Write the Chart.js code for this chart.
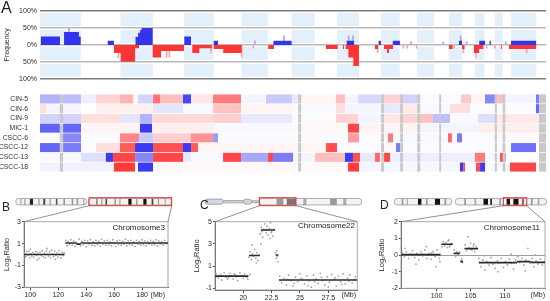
<!DOCTYPE html>
<html>
<head>
<meta charset="utf-8">
<script src="https://cdn.jsdelivr.net/npm/chart.js@4.4.1/dist/chart.umd.min.js"></script>
<style>
  body { margin: 0; background: #fff; width: 550px; height: 301px; overflow: hidden; position: relative;
         font-family: "Liberation Sans", Arial, sans-serif; color: #222; }
  canvas { position: absolute; }
  .lbl { position: absolute; font-size: 8px; line-height: 1; white-space: nowrap; }
  .panel { position: absolute; line-height: 1; }
</style>
</head>
<body>
<canvas id="freq" width="550" height="86" style="left:0;top:0"></canvas>
<canvas id="heat" width="550" height="94" style="left:0;top:86px"></canvas>
<canvas id="cB" width="180" height="113" style="left:0;top:188px"></canvas>
<canvas id="cC" width="185" height="113" style="left:180px;top:188px"></canvas>
<canvas id="cD" width="185" height="113" style="left:365px;top:188px"></canvas>

<div class="panel" style="left:1px;top:0;font-size:16px">A</div>
<div class="panel" style="left:2px;top:201px;font-size:12px">B</div>
<div class="panel" style="left:200px;top:199px;font-size:12px">C</div>
<div class="panel" style="left:380px;top:199px;font-size:12px">D</div>

<div class="lbl" style="right:385px;top:224px">Chromosome3</div>
<div class="lbl" style="right:195px;top:222px">Chromosome22</div>
<div class="lbl" style="right:10px;top:224px">Chromosome11</div>
<div class="lbl" style="right:385px;top:291px;font-size:7px">(Mb)</div>
<div class="lbl" style="right:194px;top:291px;font-size:7px">(Mb)</div>
<div class="lbl" style="right:5px;top:291px;font-size:7px">(Mb)</div>

<script>
// genome layout (Mb)
const chrNames = ["1","2","3","4","5","6","7","8","9","10","11","12","13","14","15","16","17","18","19","20","21","22","X","Y"];
const chrLen = [249,243,198,191,181,171,159,146,141,136,135,134,115,107,103,90,81,78,59,63,48,51,155,59];

// frequency of gains / losses: [start Mb, end Mb, %]
const gainSegs = [[4,122,25],[147,238,38],[238,249,25],[414,452,12],[584,600,24],[600,612,36],[612,621,44],[621,689,50],
  [882,923,25],[1062,1088,12],[1427,1538,12],[1875,1920,12],[2070,2084,12],[2158,2200,12],[2561,2580,12],
  [2685,2720,12],[2748,2756,12],[2879,3034,12]];
const lossSegs = [[452,493,24],[493,581,50],[581,605,10],[689,740,37],[740,880,18],[931,974,24],[974,1050,10],
  [1062,1120,12],[1120,1233,24],[1395,1430,12],[1748,1820,12],[1852,1858,12],[1868,1885,12],[1885,1915,37],
  [1915,1950,62],[2048,2066,12],[2103,2121,12],[2121,2133,24],[2133,2158,12],[2500,2522,12],[2580,2595,12],
  [2653,2684,24],[2684,2710,12],[2817,2823,12],[2867,3034,12]];
// thin pale spikes: [Mb, %]
const gainSpikes = [[177,50],[1314,12],[1492,27],[1887,27],[1913,27],[2158,8],[2268,10],[2464,8],[2572,27],[2608,10],[2849,10]];
const lossSpikes = [[479,-38],[774,-37],[791,-37],[1045,-24],[1233,-37],[1304,-10],[2064,-24],[2221,-10],[2245,-10],
  [2303,-10],[2531,-10],[2588,-24],[2663,-37],[2731,-10],[2781,-10],[2975,-24]];
const freqTicks = [-100,-50,0,50,100];

// heatmap rows: [start Mb, end Mb, value] (+ gain blue, - loss red)
const sampleNames = ["CIN-5","CIN-6","CIN-9","MIC-1","CSCC-6","CSCC-12","CSCC-13","CSCC-18"];
const cin5 = [[0,122,0.35],[141,251,0.3],[251,342,0.08],[342,489,-0.2],[489,569,-0.35],[569,599,-0.05],[599,691,0.2],
  [691,734,-0.65],[734,874,-0.3],[874,923,0.85],[923,1058,-0.12],[1058,1229,-0.6],[1229,1382,0.05],[1382,1540,0.25],
  [1540,1589,0.1],[1589,1809,-0.05],[1809,1864,-0.3],[1864,1944,0.05],[1944,2085,0.18],[2085,2201,-0.2],[2201,2311,0.2],
  [2311,2574,0.02],[2574,2635,-0.25],[2635,2720,-0.05],[2720,2781,0.55],[2781,2842,-0.3],[2842,3032,0.05],[3032,3050,0.6]];
const cin6 = [[0,37,-0.15],[37,251,0.05],[251,342,0],[342,691,-0.07],[691,874,0.12],[874,1058,0.03],[1058,1229,-0.28],
  [1229,1540,-0.05],[1540,1809,0.03],[1809,1864,-0.15],[1864,2085,0.05],[2085,2201,0.1],[2201,2311,-0.1],[2311,2506,0.03],
  [2506,2629,-0.15],[2629,3032,0.02],[3032,3050,0.7]];
const cin9 = [[0,251,0.2],[251,489,-0.15],[489,611,0.12],[611,685,0.35],[685,1058,-0.18],[1058,1229,-0.22],[1229,1540,0.1],
  [1540,1809,0.02],[1809,1944,-0.2],[1944,2085,0.05],[2085,2201,-0.12],[2201,2311,-0.2],[2311,2402,-0.28],[2402,2506,0.3],
  [2506,2677,0.03],[2677,2794,0.15],[2794,3050,-0.1]];
const mic1 = [[0,122,0.72],[141,251,0.7],[251,611,-0.05],[611,685,0.9],[685,1058,-0.08],[1058,1540,0.03],[1540,1883,-0.03],
  [1883,1950,-0.85],[1950,2323,-0.05],[2323,2690,0.05],[2690,3050,-0.08]];
const cscc6 = [[0,141,0.02],[141,251,0.55],[251,489,0.02],[489,605,-0.55],[605,691,0.25],[691,923,-0.22],[923,1058,-0.5],
  [1058,1088,0.45],[1088,1883,0.02],[1883,1950,-0.45],[1950,2127,0.02],[2127,2158,-0.6],[2158,2494,0.03],[2494,2518,-0.7],
  [2518,2549,0.02],[2549,2580,0.6],[2580,3050,0.02]];
const cscc12 = [[0,122,0.7],[141,251,0.6],[251,342,0.02],[342,489,-0.15],[489,581,-0.75],[581,691,0.9],[691,874,-0.8],
  [874,923,0.9],[923,966,-0.75],[966,1748,-0.05],[1748,1816,-0.8],[1816,2176,0.02],[2176,2201,0.6],[2201,2879,0.02],
  [2879,3032,0.65]];
const cscc13 = [[0,251,0.03],[251,403,0.15],[403,446,0.9],[446,581,-0.85],[581,691,0.55],[691,874,-0.85],[874,923,0.1],
  [923,1119,0.03],[1119,1229,-0.85],[1229,1394,0.4],[1394,1424,-0.85],[1424,1547,0.6],[1547,1681,0.05],[1681,1864,-0.3],
  [1864,1913,0.9],[1913,1956,-0.8],[1956,2048,0.1],[2048,2078,-0.7],[2078,2103,0.02],[2103,2140,-0.85],[2140,2659,0.08],
  [2659,2720,-0.6],[2720,2812,0.03],[2812,2830,-0.8],[2830,2849,0.4],[2849,3050,0]];
const cscc18 = [[0,452,0.06],[452,581,-0.9],[581,599,0.02],[599,691,0.9],[691,1883,-0.03],[1883,1950,-0.9],[1950,2567,0.04],
  [2567,2586,0.9],[2586,2598,-0.8],[2598,2665,0.02],[2665,2690,-0.8],[2690,2720,0.9],[2720,2873,0.03],[2873,3032,-0.85]];
const heatRows = [cin5, cin6, cin9, mic1, cscc6, cscc12, cscc13, cscc18];
// masked (grey) columns
const grayGaps = [[121,141],[1578,1596],[2085,2103],[2201,2219],[2306,2324],[2440,2452],[2780,2793],[2828,2844],[3050,3093]];

// panel B: chromosome 3
const bTicksX = [100,120,140,160,180];
const bTicksY = [-3,-2,-1,0,1,2,3];
const bSegs = [[95.5,124.5,0],[125,133,1.05],[133,136,0.95],[136,198.5,1.05]];
const bPoints = [[96,0.12],[96.8,-0.2],[97.5,0.25],[98.2,-0.05],[99,0.3],[99.6,-0.3],[100.3,0.08],[101,-0.15],[101.8,0.2],
  [102.5,-0.25],[103.2,0.05],[104,0.28],[104.7,-0.1],[105.5,0.15],[106.2,-0.35],[107,0.22],[107.8,-0.05],[108.5,0.35],
  [109.3,-0.2],[110,0.1],[110.8,-0.28],[111.5,0.3],[112.3,0.02],[113,-0.15],[113.8,0.25],[114.5,-0.3],[115.3,0.4],[116,0.05],
  [116.8,-0.2],[117.5,0.3],[118.3,-0.08],[119,0.18],[119.8,-0.25],[120.5,0.35],[121.3,0],[122,-0.32],[122.8,0.2],[123.5,-0.1],
  [124.2,0.15],[100,0.5],[105,-0.5],[112,0.55],[118,-0.45],
  [125.5,1.3],[126.3,0.8],[127,1.2],[128,0.9],[129,1.35],[130,0.85],[131,1.25],[132,0.75],[133,1.15],[134,0.95],[135,1.4],
  [136,0.8],[137,1.2],[138,0.9],[139,1.3],[140,0.7],[141,1.25],[142,0.95],[143,1.35],[144,0.85],[145,1.15],[146,0.8],
  [147,1.3],[148,0.9],[149,1.2],[150,0.75],[151,1.4],[152,0.95],[153,1.25],[154,0.85],[155,1.3],[156,0.9],[157,1.15],
  [158,0.8],[159,1.35],[160,1.0],[161,0.75],[162,1.25],[163,0.9],[164,1.3],[165,0.85],[166,1.2],[167,0.95],[168,1.4],
  [169,0.8],[170,1.25],[171,0.9],[172,1.3],[173,0.85],[174,1.15],[175,0.75],[176,1.3],[177,0.95],[178,1.2],[179,0.85],
  [180,1.35],[181,0.9],[182,1.25],[183,0.8],[184,1.15],[185,0.95],[186,1.3],[187,0.85],[188,1.2],[189,0.9],[190,1.35],
  [191,0.8],[192,1.25],[193,0.95],[194,1.15],[195,0.85],[196,1.3],[197,1.0]];

// panel C: chromosome 22
const cTicksX = [20,22.5,25,27.5];
const cTicksY = [-1,0,1,2,3,4,5];
const cSegs = [[17.5,20.45,0.1],[20.5,21.45,1.95],[21.55,22.8,4.25],[22.85,23.1,2.0],[23.15,30.06,-0.25]];
const cPoints = [[17.6,0.3],[17.8,-0.1],[18.0,0.25],[18.1,-0.25],[18.3,0.4],[18.5,0.0],[18.6,-0.2],[18.8,0.35],[18.9,0.15],
  [19.1,-0.15],[19.2,0.3],[19.4,0.05],[19.5,-0.3],[19.7,0.4],[19.8,0.1],[20.0,-0.1],[20.1,0.3],[20.3,0.0],[20.4,-0.2],
  [20.6,0.25],[17.7,0.05],[18.2,0.1],[18.7,-0.05],[19.3,0.2],[19.9,0.15],
  [20.5,1.8],[20.6,2.3],[20.7,1.6],[20.8,2.1],[20.9,1.9],[21.0,2.5],[21.1,1.7],[21.2,2.2],[21.3,1.5],[21.4,2.0],[20.75,2.9],[21.15,1.3],
  [21.5,3.9],[21.6,4.5],[21.7,3.6],[21.8,4.3],[21.9,4.8],[22.0,4.0],[22.1,4.6],[22.2,3.8],[22.3,4.4],[22.4,4.9],[22.5,4.1],
  [22.6,3.7],[22.7,4.3],[21.65,4.1],[22.05,4.3],[22.35,3.5],[21.55,3.0],[22.45,4.0],
  [22.85,2.2],[22.9,1.7],[22.95,2.4],[23.0,1.9],[23.05,1.4],
  [23.2,0.1],[23.4,-0.5],[23.6,-0.1],[23.8,-0.7],[24.0,0.2],[24.2,-0.3],[24.4,-0.8],[24.6,0.0],[24.8,-0.4],[25.0,0.3],
  [25.2,-0.2],[25.4,-0.6],[25.6,0.1],[25.8,-0.35],[26.0,-0.9],[26.2,0.2],[26.4,-0.15],[26.6,-0.55],[26.8,0.35],[27.0,-0.3],
  [27.2,-0.7],[27.4,0.05],[27.6,-0.45],[27.8,0.25],[28.0,-0.2],[28.2,-0.8],[28.4,0.1],[28.6,-0.4],[28.8,0.3],[29.0,-0.6],
  [29.2,-0.1],[29.4,0.2],[29.6,-0.5],[29.8,-0.2],[23.3,-0.3],[23.9,-0.2],[24.5,-0.55],[25.1,-0.1],[25.7,-0.75],[26.3,-0.4],
  [26.9,0.0],[27.5,-0.9],[28.1,-0.05],[28.7,-0.65],[29.3,-0.35],[29.9,0.05]];

// panel D: chromosome 11
const dTicksX = [100,105,110];
const dTicksY = [-2,-1,0,1,2];
const dSegs = [[94.8,100.6,0.02],[100.7,102.4,0.65],[102.5,103.4,0.1],[103.5,103.9,-0.4],[104.1,106.1,0.38],
  [106.2,111.8,-0.46],[111.8,113.8,-0.4],[113.8,115.9,-0.44]];
const dPoints = [[95.0,0.15],[95.3,-0.1],[95.6,0.2],[95.9,-0.2],[96.2,0.05],[96.5,0.25],[96.8,-0.15],[97.1,0.1],[97.4,-0.3],
  [97.7,0.2],[98.0,-0.05],[98.3,0.3],[98.6,-0.2],[98.9,0.1],[99.2,-0.25],[99.5,0.2],[99.8,-0.1],[100.1,0.3],[100.4,-0.2],
  [95.4,0.4],[97.0,-0.55],[98.5,0.5],[99.9,-0.7],[96.0,0.0],[97.9,0.05],[99.3,0.12],[100.5,-0.4],
  [100.8,0.5],[101.0,0.8],[101.2,0.55],[101.4,0.75],[101.6,0.45],[101.8,0.9],[102.0,0.6],[102.2,0.7],[101.1,0.65],[101.7,0.85],[101.9,0.5],
  [102.6,0.3],[102.8,-0.1],[103.0,0.2],[103.2,0.0],[103.4,0.15],[103.6,-0.35],[103.8,-0.45],[103.7,-0.25],
  [104.2,0.6],[104.4,0.25],[104.6,1.1],[104.8,0.45],[105.0,0.7],[105.2,0.3],[105.4,0.55],[105.6,0.2],[105.8,0.5],[104.9,0.35],[105.5,0.65],
  [106.2,-0.2],[106.5,-0.7],[106.8,-0.3],[107.1,-0.9],[107.4,-0.4],[107.7,-0.6],[108.0,-0.15],[108.3,-0.55],[108.6,-0.8],
  [108.9,-0.35],[109.2,-0.5],[109.5,-0.2],[109.8,-0.75],[110.1,-0.4],[110.4,-0.6],[110.7,-0.25],[111.0,-0.5],[111.3,-0.85],
  [111.6,-0.3],[111.9,-0.1],[112.2,-0.45],[112.5,-0.2],[112.8,-0.6],[113.1,-0.3],[113.4,0.4],[113.7,-0.5],[114.0,-0.2],
  [114.3,-0.7],[114.6,-0.35],[114.9,-0.55],[115.2,-0.25],[115.5,-0.6],[115.8,-0.4],[107.0,-0.05],[109.0,-1.0],[110.9,0.05],
  [112.0,-0.05],[113.0,-0.95],[114.5,0.0]];

// ideogram bands: [start Mb, end Mb, colour]
const chr3Bands = [[5.5,7.6,'#bbb'],[11,12.5,'#999'],[18,22,'#222'],[28.8,30.3,'#999'],[35,37.5,'#444'],[43,44.5,'#999'],
  [51,53,'#555'],[60.5,62.6,'#999'],[71,73,'#999'],[77,79.5,'#aaa'],[85.5,87,'#aaa'],[102,104,'#888'],[108.5,110,'#999'],
  [114,116,'#444'],[125.5,127,'#888'],[131.5,133,'#999'],[143,147,'#111'],[153,154.5,'#888'],[162,166,'#111'],
  [172.5,174.7,'#444'],[180.5,182,'#999'],[189,190.5,'#aaa']];
const chr22Bands = [[23.3,25.5,'#999'],[26.6,29.6,'#777'],[32,33,'#aaa'],[40.7,42.9,'#999'],[45,46,'#aaa']];
const chr11Bands = [[6.5,8,'#999'],[11,12,'#aaa'],[21,24,'#111'],[28,29.5,'#999'],[36,40.5,'#111'],[44.5,46,'#999'],
  [62,63.5,'#999'],[71,72.5,'#aaa'],[79,83,'#111'],[85,86.5,'#222'],[93,94.5,'#999'],[99.5,102.5,'#111'],
  [105.5,110,'#111'],[113,115,'#777'],[121,122.5,'#999'],[127,128.5,'#aaa']];

// ---------- helpers ----------
const chrStart = [];
chrLen.reduce((acc, l, i) => { chrStart[i] = acc; return acc + l; }, 0);
const genomeEnd = chrStart[chrStart.length - 1] + chrLen[chrLen.length - 1];
const chrMid = chrLen.map((l, i) => chrStart[i] + l / 2);

Chart.defaults.font.family = '"Liberation Sans", Arial, sans-serif';
Chart.defaults.font.size = 7;
Chart.defaults.color = '#2a2a2a';

function stepPoints(segs, sign) {
  return segs.flatMap(([s, e, v]) => [{x: s, y: v * sign}, {x: e, y: 0}]);
}

function cellColor(v) {
  const a = Math.min(1, Math.abs(v || 0));
  const c = Math.round(255 - 218 * a);
  return v >= 0 ? `rgb(${c},${c},${Math.round(255 - 12 * a)})` : `rgb(255,${c},${c})`;
}

// light blue band behind odd chromosomes
const bandsPlugin = {
  id: 'bands',
  beforeDraw(chart) {
    const {ctx, scales: {x, y}} = chart;
    const pieces = [[100, 50], [50, 0], [0, -50], [-50, -100]];
    ctx.save();
    ctx.fillStyle = '#e3effb';
    chrLen.forEach((l, i) => {
      if (i % 2 !== 0 || i === 23) return;
      const x0 = x.getPixelForValue(chrStart[i]), x1 = x.getPixelForValue(chrStart[i] + l);
      pieces.forEach(([a, b]) => {
        const y0 = y.getPixelForValue(a) + 2, y1 = y.getPixelForValue(b) - 2;
        ctx.fillRect(x0, y0, x1 - x0, y1 - y0);
      });
    });
    ctx.restore();
  }
};

// frequency plot
new Chart(document.getElementById('freq'), {
  type: 'line',
  data: {
    datasets: [
      {type: 'bar', data: gainSpikes.map(([x, y]) => ({x, y})), backgroundColor: '#a8a8f0', barThickness: 1, grouped: false, order: 3},
      {type: 'bar', data: lossSpikes.map(([x, y]) => ({x, y})), backgroundColor: '#f2a8a8', barThickness: 1, grouped: false, order: 3},
      {data: stepPoints(gainSegs, 1), stepped: true, fill: 'origin', backgroundColor: '#3434ee', borderWidth: 0, pointRadius: 0, order: 1},
      {data: stepPoints(lossSegs, -1), stepped: true, fill: 'origin', backgroundColor: '#ff3434', borderWidth: 0, pointRadius: 0, order: 1}
    ]
  },
  options: {
    responsive: false, animation: false, events: [],
    layout: {padding: {left: 0, right: 4, top: 0, bottom: 5}},
    plugins: {legend: {display: false}, tooltip: {enabled: false}},
    scales: {
      x: {
        type: 'linear', position: 'top', min: 0, max: genomeEnd, offset: false,
        grid: {display: false}, border: {display: false},
        afterBuildTicks: s => { s.ticks = chrMid.map(v => ({value: v})); },
        ticks: {autoSkip: false, maxRotation: 0, padding: 2, callback: (v, i) => chrNames[i]},
        afterFit: s => { s.height = 11; }
      },
      y: {
        min: -100, max: 100,
        afterBuildTicks: s => { s.ticks = freqTicks.map(v => ({value: v})); },
        ticks: {padding: 3, callback: v => Math.abs(v) + '%'},
        grid: {drawTicks: false, lineWidth: 1.5, color: c => Math.abs(c.tick.value) === 100 ? '#7c7c7c' : '#bababa'},
        border: {display: false},
        title: {display: true, text: 'Frequency', padding: {top: 3, bottom: 0}},
        afterFit: s => { s.width = 40; }
      }
    }
  },
  plugins: [bandsPlugin]
});

// heatmap
const heatCells = sampleNames.flatMap((n, i) => heatRows[i].map(([s, e, v]) => ({x: [s, e], y: n, v})));
const grayCells = sampleNames.flatMap(n => grayGaps.map(([s, e]) => ({x: [s, e], y: n})));

new Chart(document.getElementById('heat'), {
  type: 'bar',
  data: {
    labels: sampleNames,
    datasets: [
      {data: grayCells, backgroundColor: '#c9c9c9', grouped: false, barPercentage: 0.93, categoryPercentage: 1, order: 0},
      {data: heatCells, backgroundColor: c => cellColor(c.raw && c.raw.v), grouped: false, barPercentage: 0.93, categoryPercentage: 1, order: 1}
    ]
  },
  options: {
    indexAxis: 'y', responsive: false, animation: false, events: [],
    layout: {padding: {left: 0, right: 4, top: 5, bottom: 3}},
    plugins: {legend: {display: false}, tooltip: {enabled: false}},
    scales: {
      x: {type: 'linear', min: 0, max: genomeEnd, display: false},
      y: {
        type: 'category', grid: {display: false}, border: {display: false},
        ticks: {padding: 4, autoSkip: false, font: {size: 6.8}, color: '#333'},
        afterFit: s => { s.width = 40; }
      }
    }
  }
});

// ---------- copy-number panels ----------
const ideoCfg = {
  cB: {x0: 15.7, x1: 171.7, y: 13.7, h: 6.5, len: 198, box: [93, 198], bands: chr3Bands,
       arms: [[0, 90, 1, '#f3f3f3'], [92, 198, 1, '#f3f3f3']]},
  cC: {x0: 25, x1: 181.7, y: 13.7, h: 6.5, len: 51, box: [17.7, 29.6], bands: chr22Bands,
       arms: [[0, 6, 0.8, '#cfd9e3'], [6, 12.5, 0.35, '#cfd9e3'], [12.5, 15.2, 0.75, '#cfd9e3'], [15.2, 17.6, 0.3, '#cfd9e3'], [17.6, 51, 1, '#f3f3f3']]},
  cD: {x0: 29.3, x1: 181.7, y: 13.7, h: 6.5, len: 135, box: [96.6, 117.3], bands: chr11Bands,
       arms: [[0, 51, 1, '#f3f3f3'], [54, 135, 1, '#f3f3f3']]}
};

const ideogramPlugin = {
  id: 'ideogram',
  afterDraw(chart) {
    const c = ideoCfg[chart.canvas.id];
    if (!c) return;
    const {ctx, chartArea: a} = chart;
    const px = mb => c.x0 + mb / c.len * (c.x1 - c.x0);
    ctx.save();
    ctx.strokeStyle = '#777';
    ctx.lineWidth = 0.8;
    ctx.beginPath();
    ctx.moveTo(px(c.box[0]), c.y + 4); ctx.lineTo(a.left, a.top);
    ctx.moveTo(px(c.box[1]), c.y + 4); ctx.lineTo(a.right, a.top);
    ctx.stroke();
    c.arms.forEach(([s, e, r, fill]) => {
      const x0 = px(s), x1 = px(e), hh = c.h * r, top = c.y - hh / 2;
      ctx.beginPath();
      ctx.roundRect(x0, top, x1 - x0, hh, hh / 2);
      ctx.fillStyle = fill;
      ctx.fill();
      ctx.save();
      ctx.clip();
      c.bands.forEach(([bs, be, col]) => {
        if (be > s && bs < e) { ctx.fillStyle = col; ctx.fillRect(px(bs), top, px(be) - px(bs), hh); }
      });
      ctx.restore();
      ctx.strokeStyle = '#8a8a8a';
      ctx.lineWidth = 0.7;
      ctx.stroke();
    });
    ctx.strokeStyle = '#e2302a';
    ctx.lineWidth = 1;
    ctx.strokeRect(px(c.box[0]), c.y - 4, px(c.box[1]) - px(c.box[0]), 8);
    ctx.restore();
  }
};

const framePlugin = {
  id: 'frame',
  beforeDatasetsDraw(chart) {
    const {ctx, chartArea: a} = chart;
    ctx.save();
    ctx.strokeStyle = '#a8a8a8';
    ctx.lineWidth = 1;
    ctx.strokeRect(a.left, a.top, a.right - a.left, a.bottom - a.top);
    ctx.restore();
  }
};

function cnChart(id, o) {
  return new Chart(document.getElementById(id), {
    type: 'scatter',
    data: {
      datasets: [
        {data: o.points.map(([x, y]) => ({x, y})), pointRadius: 0.9, pointBorderWidth: 0, pointBackgroundColor: '#a4a4a4', order: 2},
        {type: 'line', data: o.segs.flatMap(([s, e, v]) => [{x: s, y: v}, {x: e, y: v}, {x: e, y: null}]),
         borderColor: '#2b2b2b', borderWidth: 1.6, pointRadius: 0, spanGaps: false, order: 1}
      ]
    },
    options: {
      responsive: false, animation: false, events: [],
      layout: {padding: {left: o.padL, right: o.padR, top: 33.7, bottom: 0}},
      plugins: {legend: {display: false}, tooltip: {enabled: false}},
      scales: {
        x: {
          type: 'linear', min: o.xMin, max: o.xMax,
          afterBuildTicks: s => { s.ticks = o.xTicks.map(v => ({value: v})); },
          grid: {drawOnChartArea: false, tickLength: 3, color: '#444'},
          border: {color: '#444'},
          ticks: {padding: 1, font: {size: 7}},
          afterFit: s => { s.height = o.xH; }
        },
        y: {
          min: o.yMin, max: o.yMax,
          afterBuildTicks: s => { s.ticks = o.yTicks.map(v => ({value: v})); },
          grid: {tickLength: 2, tickColor: '#444', color: c => c.tick.value === 0 ? '#9d9d9d' : 'rgba(0,0,0,0)'},
          border: {color: '#444'},
          ticks: {padding: 1, font: {size: 7}},
          title: {display: true, text: 'Log₂Ratio', padding: 0, font: {size: 7.5}},
          afterFit: s => { s.width = o.yW; }
        }
      }
    },
    plugins: [framePlugin, ideogramPlugin]
  });
}

cnChart('cB', {points: bPoints, segs: bSegs, xMin: 95.5, xMax: 198.5, xTicks: bTicksX, yMin: -3, yMax: 3, yTicks: bTicksY,
  padL: 2, yW: 22, padR: 12, xH: 13.7});
cnChart('cC', {points: cPoints, segs: cSegs, xMin: 17.5, xMax: 30.06, xTicks: cTicksX, yMin: -1.15, yMax: 5, yTicks: cTicksY,
  padL: 12, yW: 23, padR: 7.7, xH: 11});
cnChart('cD', {points: dPoints, segs: dSegs, xMin: 94.8, xMax: 115.9, xTicks: dTicksX, yMin: -2, yMax: 2, yTicks: dTicksY,
  padL: 12, yW: 24, padR: 5, xH: 12.7});
</script>
</body>
</html>
